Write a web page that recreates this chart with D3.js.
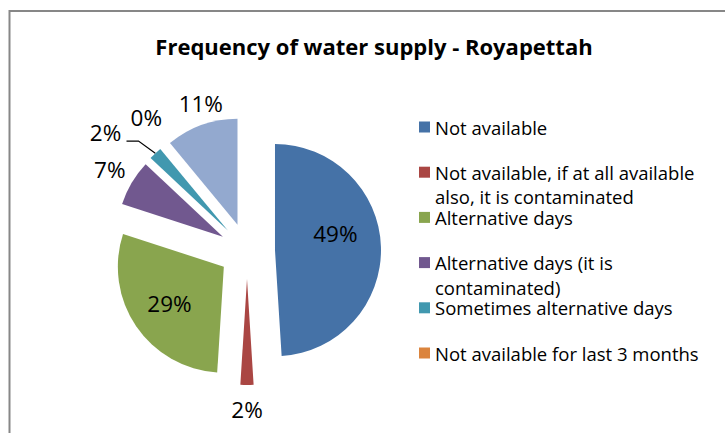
<!DOCTYPE html>
<html>
<head>
<meta charset="utf-8">
<script src="https://cdn.jsdelivr.net/npm/d3@7"></script>
<style>
  body { margin: 0; background: #fff; }
  svg { display: block; font-family: "Open Sans", Lato, sans-serif; }
</style>
</head>
<body>
<div id="chart"></div>
<script>
const title = "Frequency of water supply - Royapettah";

const categories = [
  "Not available",
  "Not available, if at all available also, it is contaminated",
  "Alternative days",
  "Alternative days (it is contaminated)",
  "Sometimes alternative days",
  "Not available for last 3 months",
  "Other"
];
const values = [49, 2, 29, 7, 2, 0, 11];
const colors = ["#4572A7", "#AA4643", "#89A54E", "#71588F", "#4198AF", "#DB843D", "#93A9CF"];

// legend shows the first six entries only (wrapped as in the original)
const legendLines = [
  ["Not available"],
  ["Not available, if at all available", "also, it is contaminated"],
  ["Alternative days"],
  ["Alternative days (it is", "contaminated)"],
  ["Sometimes alternative days"],
  ["Not available for last 3 months"]
];

// label placement: radius factor from the exploded apex, plus small nudges
const labelLayout = [
  { k: 0.58, dx: -1, dy: -15 },
  { k: 1.23, dx: 0, dy: 0 },
  { k: 0.62, dx: 0, dy: 0 },
  { k: 1.24, dx: 0, dy: 0 },
  { k: 1.30, dx: -28, dy: 2, leader: true },
  { k: 1.36, dx: 9, dy: -1 },
  { k: 1.19, dx: 6, dy: -2 }
];

const width = 725, height = 433;
const cx = 247, cy = 251, r = 106, explode = 28;

const svg = d3.select("#chart").append("svg")
  .attr("width", width)
  .attr("height", height);

// chart area border (clipped on the right/bottom like the original)
svg.append("rect")
  .attr("x", 9.5).attr("y", 11)
  .attr("width", 760).attr("height", 460)
  .attr("fill", "none")
  .attr("stroke", "#878787")
  .attr("stroke-width", 2);

svg.append("text")
  .attr("x", 374)
  .attr("y", 55)
  .attr("text-anchor", "middle")
  .attr("font-size", 22)
  .attr("font-weight", "bold")
  .attr("fill", "#000")
  .text(title);

const pie = d3.pie().sort(null).value((d) => d);
const arcs = pie(values);
const arc = d3.arc().innerRadius(0).outerRadius(r);

const mid = (d) => (d.startAngle + d.endAngle) / 2;
const polar = (a, dist) => [Math.sin(a) * dist, -Math.cos(a) * dist];

const g = svg.append("g").attr("transform", `translate(${cx},${cy})`);

g.selectAll("path.slice")
  .data(arcs)
  .join("path")
  .attr("class", "slice")
  .attr("transform", (d) => {
    const [x, y] = polar(mid(d), explode);
    return `translate(${x},${y})`;
  })
  .attr("d", arc)
  .attr("fill", (d, i) => colors[i]);

// labels
arcs.forEach((d, i) => {
  const a = mid(d);
  const [ax, ay] = polar(a, explode);
  const L = labelLayout[i];
  const [lx, ly] = polar(a, r * L.k);
  const x = ax + lx + L.dx;
  const y = ay + ly + L.dy;

  if (L.leader) {
    const [ox, oy] = polar(a, r);
    const pts = [
      [ax + ox, ay + oy],
      [x + 33, y + 9],
      [x + 21, y + 9]
    ];
    g.append("path")
      .attr("d", d3.line()(pts))
      .attr("fill", "none")
      .attr("stroke", "#000")
      .attr("stroke-width", 1.2);
  }

  g.append("text")
    .attr("x", x)
    .attr("y", y)
    .attr("text-anchor", "middle")
    .attr("dominant-baseline", "central")
    .attr("font-size", 22.5)
    .attr("fill", "#000")
    .text(Math.round(d.data) + "%");
});

// legend
const legend = svg.append("g").attr("transform", "translate(419,127)");
const step = 45.2;
legendLines.forEach((lines, i) => {
  const row = legend.append("g").attr("transform", `translate(0,${i * step})`);
  row.append("rect")
    .attr("x", 0).attr("y", -5.5)
    .attr("width", 11).attr("height", 11)
    .attr("fill", colors[i]);
  lines.forEach((t, j) => {
    row.append("text")
      .attr("x", 16)
      .attr("y", j * 24.5)
      .attr("dominant-baseline", "central")
      .attr("font-size", 18.5)
      .attr("fill", "#000")
      .text(t);
  });
});
</script>
</body>
</html>
